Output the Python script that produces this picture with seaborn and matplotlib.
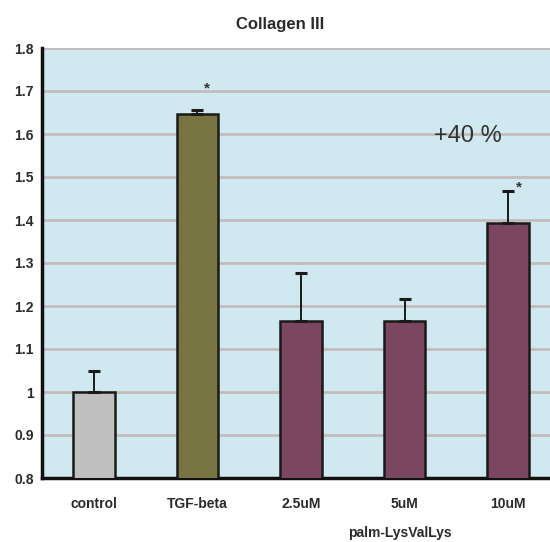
import matplotlib
matplotlib.use('Agg')
import matplotlib.pyplot as plt
import seaborn as sns
import numpy as np

# values
categories = ['control', 'TGF-beta', '2.5uM', '5uM', '10uM']
means = [1.0, 1.646, 1.164, 1.164, 1.392]
upper_err = [0.049, 0.009, 0.113, 0.052, 0.076]
bar_colors = ['#c0c0c0', '#787442', '#7a4660', '#7a4660', '#7a4660']
y_ticks = [0.8, 0.9, 1.0, 1.1, 1.2, 1.3, 1.4, 1.5, 1.6, 1.7, 1.8]
y_labels = ['0.8', '0.9', '1', '1.1', '1.2', '1.3', '1.4', '1.5', '1.6', '1.7', '1.8']

sns.set_style('white')
plt.rcParams['font.family'] = ['Liberation Sans', 'DejaVu Sans']

fig = plt.figure(figsize=(5.5, 5.42), dpi=100)
# the plot area runs a little past the right edge of the picture
ax = fig.add_axes([42 / 550, 64 / 542, 518 / 550, 430 / 542])
ax.set_facecolor('#d0e8f0')

sns.barplot(x=categories, y=means, hue=categories, palette=bar_colors,
            width=0.4, edgecolor='#1a1a1a', linewidth=1.8, legend=False,
            saturation=1, ax=ax, zorder=3)

x = np.arange(len(categories))
ax.errorbar(x, means, yerr=[np.zeros(len(means)), upper_err], fmt='none',
            ecolor='#1a1a1a', elinewidth=1.4, capsize=4, capthick=2.2, zorder=4)

ax.set_ylim(0.8, 1.8)
ax.set_xlim(-0.5, len(categories) - 0.5)
ax.set_yticks(y_ticks)
ax.set_yticklabels(y_labels, fontsize=10, fontweight='bold', color='#2a2a2a')
ax.yaxis.grid(True, color='#c4bcbc', linewidth=2, zorder=0)
ax.set_axisbelow(True)

ax.set_xticks(x)
ax.set_xticklabels(categories, fontsize=10, fontweight='bold', color='#2a2a2a')
ax.tick_params(axis='x', which='major', length=0, pad=14)
ax.set_xticks(np.arange(len(categories) - 1) + 0.5, minor=True)
ax.tick_params(axis='x', which='minor', length=4, width=2, color='#1a1a1a', direction='out')
ax.tick_params(axis='y', length=4, width=2, color='#1a1a1a', direction='out', pad=2)
ax.set_xlabel('')
ax.set_ylabel('')

for side in ['top', 'right']:
    ax.spines[side].set_visible(False)
ax.spines['left'].set_linewidth(2.5)
ax.spines['left'].set_color('#111111')
ax.spines['bottom'].set_linewidth(2.5)
ax.spines['bottom'].set_color('#111111')

# significance marks and annotation
ax.text(1.09, 1.705, '*', fontsize=11, fontweight='bold', ha='center', va='center', color='#333333')
ax.text(4.1, 1.475, '*', fontsize=11, fontweight='bold', ha='center', va='center', color='#333333')
ax.text(3.28, 1.595, '+40 %', fontsize=17, ha='left', va='center', color='#333333')

fig.text(280 / 550, 1 - 25 / 542, 'Collagen III', fontsize=12, fontweight='bold',
         ha='center', va='center', color='#2a2a2a')
fig.text(400 / 550, 1 - 533 / 542, 'palm-LysValLys', fontsize=10, fontweight='bold',
         ha='center', va='center', color='#2a2a2a')

fig.savefig('out.png', dpi=100)
